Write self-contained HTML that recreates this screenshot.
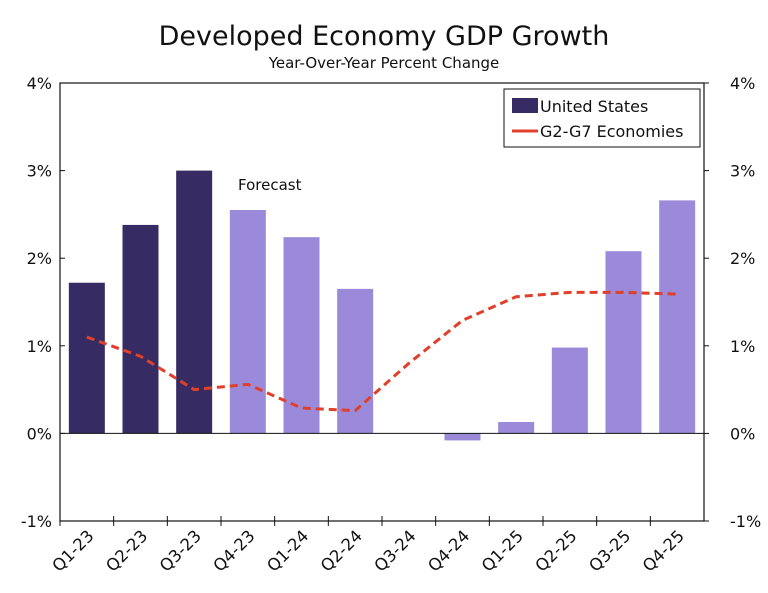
<!DOCTYPE html>
<html><head><meta charset="utf-8"><style>
body{margin:0;background:#fff;}
svg text{font-family:"DejaVu Sans","Liberation Sans",sans-serif;fill:#111;}
</style></head><body>
<svg width="768" height="588">
<text x="384" y="45" text-anchor="middle" font-size="27">Developed Economy GDP Growth</text>
<text x="384" y="68" text-anchor="middle" font-size="15">Year-Over-Year Percent Change</text>
<g id="plot"></g>
<text x="238" y="190" font-size="15">Forecast</text>
<g>
<rect x="504" y="89" width="196" height="58" fill="#fff" stroke="#111" stroke-width="1"/>
<rect x="512" y="98" width="26" height="15" fill="#372b63"/>
<text x="540" y="112" font-size="16">United States</text>
<line x1="512" y1="131" x2="538" y2="131" stroke="#e0402a" stroke-width="3"/>
<text x="540" y="137" font-size="16">G2-G7 Economies</text>
</g>
</svg>
<script>
const categories=["Q1-23","Q2-23","Q3-23","Q4-23","Q1-24","Q2-24","Q3-24","Q4-24","Q1-25","Q2-25","Q3-25","Q4-25"];
const usValues=[1.72,2.38,3.0,2.55,2.24,1.65,null,-0.08,0.13,0.98,2.08,2.66];
const g7Values=[1.1,0.88,0.5,0.56,0.29,0.26,0.8,1.29,1.56,1.61,1.61,1.59];
const yTicks=[-1,0,1,2,3,4];
const forecastStart=3;
const L=60,R=704,T=83,B=521,ymin=-1,ymax=4;
const NS="http://www.w3.org/2000/svg";
const g=document.getElementById('plot');
const bw=(R-L)/categories.length;
const x=i=>L+bw*(i+0.5);
const y=v=>B-(v-ymin)/(ymax-ymin)*(B-T);
function mk(t,a){const e=document.createElementNS(NS,t);for(const k in a)e.setAttribute(k,a[k]);g.appendChild(e);return e;}
usValues.forEach((v,i)=>{if(v===null)return;
const r=mk('rect',{x:x(i)-18,width:36,y:Math.min(y(v),y(0)),height:Math.abs(y(v)-y(0)),fill:i<forecastStart?'#372b63':'#9b8ada'});

});
let e=mk('line',{x1:L,x2:R,y1:y(0),y2:y(0),stroke:'#111','stroke-width':1});


const pl=mk('polyline',{points:g7Values.map((v,i)=>x(i)+','+y(v)).join(' '),fill:'none',stroke:'#e0402a','stroke-width':3,'stroke-dasharray':'8,5'});


e=mk('rect',{x:L,y:T,width:R-L,height:B-T,fill:'none',stroke:'#111','stroke-width':1.2});


yTicks.forEach(v=>{
const a=mk('text',{x:L-8,y:y(v)+6,'text-anchor':'end','font-size':16});a.textContent=v+'%';


const b=mk('text',{x:R+26,y:y(v)+6,'font-size':16});b.textContent=v+'%';


mk('line',{x1:L,x2:L+5,y1:y(v),y2:y(v),stroke:'#111'});
mk('line',{x1:R,x2:R+5,y1:y(v),y2:y(v),stroke:'#111'});
});
categories.forEach((c,i)=>{
const tx=L+bw*i;
mk('line',{x1:tx,x2:tx,y1:B-5,y2:B+5,stroke:'#111'});
const xx=x(i)+8,yy=B+16;
const t=mk('text',{x:xx,y:yy,'text-anchor':'end','font-size':16.5,transform:`rotate(-45 ${xx} ${yy})`});
t.textContent=c;


});
</script>
</body></html>
